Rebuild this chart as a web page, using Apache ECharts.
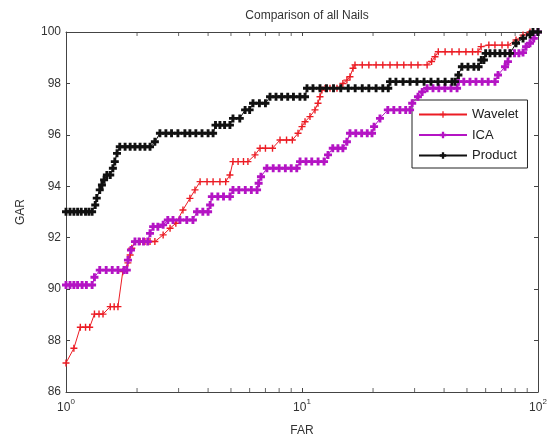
<!DOCTYPE html>
<html>
<head>
<meta charset="utf-8">
<script src="https://cdn.jsdelivr.net/npm/echarts@6/dist/echarts.min.js"></script>
<style>
  html, body { margin: 0; padding: 0; background: #fff; }
  #chart { width: 550px; height: 443px; }
</style>
</head>
<body>
<div id="chart"></div>
<script>
// FAR (%) vs GAR (%) operating points for each method
const waveletPoints = [
  [1.00, 87.13], [1.08, 87.70], [1.15, 88.52], [1.21, 88.52], [1.26, 88.52], [1.32, 89.03], [1.38, 89.03],
  [1.435, 89.03], [1.54, 89.32], [1.60, 89.32], [1.66, 89.32], [1.74, 90.68], [1.83, 91.02], [1.87, 91.33],
  [1.90, 91.59], [1.96, 91.85], [2.06, 91.85], [2.16, 91.85], [2.27, 91.85], [2.38, 91.85], [2.58, 92.11],
  [2.76, 92.37], [2.92, 92.56], [3.13, 93.08], [3.35, 93.53], [3.52, 93.86], [3.70, 94.18], [3.96, 94.18],
  [4.20, 94.18], [4.49, 94.18], [4.75, 94.18], [4.95, 94.44], [5.10, 94.96], [5.36, 94.96], [5.65, 94.96],
  [5.90, 94.96], [6.32, 95.22], [6.64, 95.48], [7.00, 95.48], [7.50, 95.48], [8.07, 95.80], [8.60, 95.80],
  [9.10, 95.80], [9.62, 96.06], [10.0, 96.32], [10.3, 96.51], [10.81, 96.71], [11.35, 96.97], [11.69, 97.23],
  [11.92, 97.48], [12.15, 97.74], [12.52, 97.81], [13.14, 97.81], [14.07, 97.81], [14.9, 98.00], [15.5, 98.13],
  [15.97, 98.26], [16.45, 98.59], [16.77, 98.72], [18.0, 98.72], [19.2, 98.72], [20.6, 98.72], [22.0, 98.72],
  [23.6, 98.72], [25.3, 98.72], [27.0, 98.72], [29.0, 98.72], [31.0, 98.72], [33.9, 98.72], [35.4, 98.85],
  [36.6, 99.04], [37.8, 99.23], [40.4, 99.23], [43.2, 99.23], [46.3, 99.23], [49.5, 99.23], [52.8, 99.23],
  [55.7, 99.23], [57.4, 99.43], [61.9, 99.49], [65.7, 99.49], [70.4, 99.49], [74.6, 99.49], [80.7, 99.69],
  [86.4, 99.88], [92.5, 100], [100, 100]
];

const icaPoints = [
  [1.00, 90.16], [1.04, 90.16], [1.08, 90.16], [1.12, 90.16], [1.17, 90.16], [1.22, 90.16], [1.29, 90.16],
  [1.32, 90.46], [1.39, 90.74], [1.48, 90.74], [1.57, 90.74], [1.66, 90.74], [1.76, 90.74], [1.81, 90.74],
  [1.83, 91.13], [1.885, 91.52], [1.96, 91.85], [2.04, 91.85], [2.13, 91.85], [2.22, 91.85], [2.27, 92.17],
  [2.34, 92.43], [2.45, 92.43], [2.58, 92.50], [2.70, 92.69], [2.84, 92.69], [3.04, 92.69], [3.25, 92.69],
  [3.45, 92.69], [3.59, 93.01], [3.80, 93.01], [4.00, 93.01], [4.08, 93.27], [4.15, 93.60], [4.40, 93.60],
  [4.65, 93.60], [4.95, 93.60], [5.10, 93.86], [5.40, 93.86], [5.75, 93.86], [6.10, 93.86], [6.45, 93.86],
  [6.55, 94.12], [6.70, 94.37], [7.10, 94.70], [7.55, 94.70], [8.00, 94.70], [8.50, 94.70], [9.00, 94.70],
  [9.50, 94.70], [9.81, 94.96], [10.4, 94.96], [11.0, 94.96], [11.7, 94.96], [12.4, 94.96], [12.89, 95.22],
  [13.5, 95.48], [14.2, 95.48], [14.9, 95.48], [15.5, 95.73], [15.97, 96.06], [16.9, 96.06], [17.9, 96.06],
  [18.9, 96.06], [19.8, 96.06], [20.2, 96.32], [21.4, 96.64], [23.1, 96.97], [24.5, 96.97], [26.0, 96.97],
  [27.5, 96.97], [28.7, 96.97], [29.3, 97.23], [31.0, 97.48], [32.3, 97.67], [33.9, 97.81], [35.9, 97.81],
  [38.0, 97.81], [40.3, 97.81], [42.8, 97.81], [45.4, 97.81], [46.0, 98.07], [48.5, 98.07], [51.5, 98.07],
  [54.6, 98.07], [58.0, 98.07], [61.5, 98.07], [65.7, 98.07], [67.7, 98.33], [72.5, 98.65], [74.6, 98.85],
  [76.1, 99.17], [79.5, 99.17], [83.0, 99.17], [86.4, 99.20], [89.0, 99.43], [92.5, 99.56], [96.0, 99.75],
  [100, 100]
];

const productPoints = [
  [1.00, 93.01], [1.04, 93.01], [1.08, 93.01], [1.12, 93.01], [1.16, 93.01], [1.21, 93.01], [1.25, 93.01],
  [1.29, 93.01], [1.33, 93.27], [1.35, 93.54], [1.39, 93.86], [1.42, 94.05], [1.45, 94.25], [1.49, 94.44],
  [1.54, 94.44], [1.58, 94.70], [1.61, 94.96], [1.645, 95.28], [1.69, 95.54], [1.78, 95.54], [1.87, 95.54],
  [1.96, 95.54], [2.06, 95.54], [2.16, 95.54], [2.27, 95.54], [2.38, 95.73], [2.50, 96.06], [2.65, 96.06],
  [2.80, 96.06], [2.98, 96.06], [3.19, 96.06], [3.35, 96.06], [3.55, 96.06], [3.77, 96.06], [4.00, 96.06],
  [4.20, 96.06], [4.30, 96.38], [4.49, 96.38], [4.70, 96.38], [4.95, 96.38], [5.10, 96.64], [5.45, 96.64],
  [5.74, 96.97], [6.00, 96.97], [6.20, 97.23], [6.60, 97.23], [7.00, 97.23], [7.32, 97.48], [7.76, 97.48],
  [8.20, 97.48], [8.70, 97.48], [9.20, 97.48], [9.80, 97.48], [10.3, 97.48], [10.5, 97.81], [11.13, 97.81],
  [11.92, 97.81], [12.7, 97.81], [13.6, 97.81], [14.6, 97.81], [15.7, 97.81], [16.8, 97.81], [18.0, 97.81],
  [19.2, 97.81], [20.6, 97.81], [22.0, 97.81], [23.2, 97.81], [23.6, 98.07], [25.0, 98.07], [26.8, 98.07],
  [28.7, 98.07], [30.7, 98.07], [32.9, 98.07], [35.2, 98.07], [37.7, 98.07], [40.4, 98.07], [43.2, 98.07],
  [44.5, 98.07], [46.0, 98.33], [47.6, 98.65], [50.5, 98.65], [53.5, 98.65], [56.0, 98.65], [57.5, 98.91],
  [59.0, 98.91], [60.0, 99.17], [62.6, 99.17], [65.7, 99.17], [69.0, 99.17], [72.5, 99.17], [76.1, 99.17],
  [80.7, 99.56], [86.4, 99.75], [92.5, 99.90], [95.2, 100], [100, 100]
];

// Axis ranges and ticks
const farRange = [1, 100];
const garRange = [86, 100];
const garStep = 2;
const farMinorTicks = [2, 3, 4, 5, 6, 7, 8, 9, 20, 30, 40, 50, 60, 70, 80, 90];

const seriesNames = ['Wavelet', 'ICA', 'Product'];
const seriesColors = ['#ec1c24', '#b414c4', '#111111'];

// thin plus for the red curve, heavier plus for the two dense curves
const thinPlus = 'path://M2,0H3V2H5V3H3V5H2V3H0V2H2Z';
const boldPlus = 'path://M1.6,0H3.4V1.6H5V3.4H3.4V5H1.6V3.4H0V1.6H1.6Z';
const seriesSymbols = [thinPlus, boldPlus, boldPlus];
const seriesSymbolSizes = [7, 8, 8];

const axisColor = '#444';
const textColor = '#333';

const chart = echarts.init(document.getElementById('chart'), null, { renderer: 'canvas' });

function lineSeries(i, data) {
  return {
    name: seriesNames[i],
    type: 'line',
    data: data,
    symbol: seriesSymbols[i],
    symbolSize: seriesSymbolSizes[i],
    showSymbol: true,
    lineStyle: { color: seriesColors[i], width: 1 },
    itemStyle: { color: seriesColors[i] },
    emphasis: { disabled: true },
    z: 3 + i
  };
}

function tickSeries(yValue, offset) {
  return {
    type: 'scatter',
    data: farMinorTicks.map(v => [v, yValue]),
    symbol: 'rect',
    symbolSize: [1, 4],
    symbolOffset: [0, offset],
    itemStyle: { color: axisColor },
    silent: true,
    clip: false,
    z: 2
  };
}

const decadeLabel = v => '{b|10}{s|' + Math.round(Math.log10(v)) + '}';

chart.setOption({
  animation: false,
  textStyle: { fontFamily: 'Liberation Sans, Arial, sans-serif' },
  title: {
    text: 'Comparison of all Nails',
    left: 302,
    top: 5,
    textAlign: 'center',
    textStyle: { fontSize: 12, fontWeight: 'normal', color: textColor }
  },
  grid: { left: 66, right: 12, top: 32, bottom: 51, containLabel: false },
  legend: {
    data: seriesNames,
    orient: 'vertical',
    left: 412,
    top: 100,
    backgroundColor: '#fff',
    borderColor: '#222',
    borderWidth: 1,
    borderRadius: 0,
    padding: [8, 9, 6, 6],
    itemWidth: 48,
    itemHeight: 8,
    itemGap: 7.5,
    textStyle: { fontSize: 13, color: '#222' }
  },
  xAxis: [
    {
      type: 'log',
      logBase: 10,
      min: farRange[0],
      max: farRange[1],
      position: 'bottom',
      name: 'FAR',
      nameLocation: 'middle',
      nameGap: 33,
      nameTextStyle: { fontSize: 12, color: textColor },
      axisLine: { lineStyle: { color: axisColor } },
      axisTick: { inside: true, length: 4, lineStyle: { color: axisColor } },
      splitLine: { show: false },
      axisLabel: {
        color: textColor,
        margin: 6,
        formatter: decadeLabel,
        rich: {
          b: { fontSize: 12, color: textColor, verticalAlign: 'bottom', lineHeight: 16 },
          s: { fontSize: 8, color: textColor, verticalAlign: 'top', lineHeight: 16 }
        }
      }
    },
    {
      type: 'log',
      logBase: 10,
      min: farRange[0],
      max: farRange[1],
      position: 'top',
      axisLine: { lineStyle: { color: axisColor } },
      axisTick: { inside: true, length: 4, lineStyle: { color: axisColor } },
      axisLabel: { show: false },
      splitLine: { show: false }
    }
  ],
  yAxis: [
    {
      type: 'value',
      min: garRange[0],
      max: garRange[1],
      interval: garStep,
      position: 'left',
      name: 'GAR',
      nameLocation: 'middle',
      nameGap: 39,
      nameTextStyle: { fontSize: 12, color: textColor },
      axisLine: { show: true, lineStyle: { color: axisColor } },
      axisTick: { show: true, inside: true, length: 4, lineStyle: { color: axisColor } },
      splitLine: { show: false },
      axisLabel: { color: textColor, fontSize: 12, margin: 5 }
    },
    {
      type: 'value',
      min: garRange[0],
      max: garRange[1],
      interval: garStep,
      position: 'right',
      axisLine: { show: true, lineStyle: { color: axisColor } },
      axisTick: { show: true, inside: true, length: 4, lineStyle: { color: axisColor } },
      splitLine: { show: false },
      axisLabel: { show: false }
    }
  ],
  series: [
    tickSeries(garRange[0], -2),
    tickSeries(garRange[1], 2),
    lineSeries(0, waveletPoints),
    lineSeries(1, icaPoints),
    lineSeries(2, productPoints)
  ]
});
</script>
</body>
</html>
